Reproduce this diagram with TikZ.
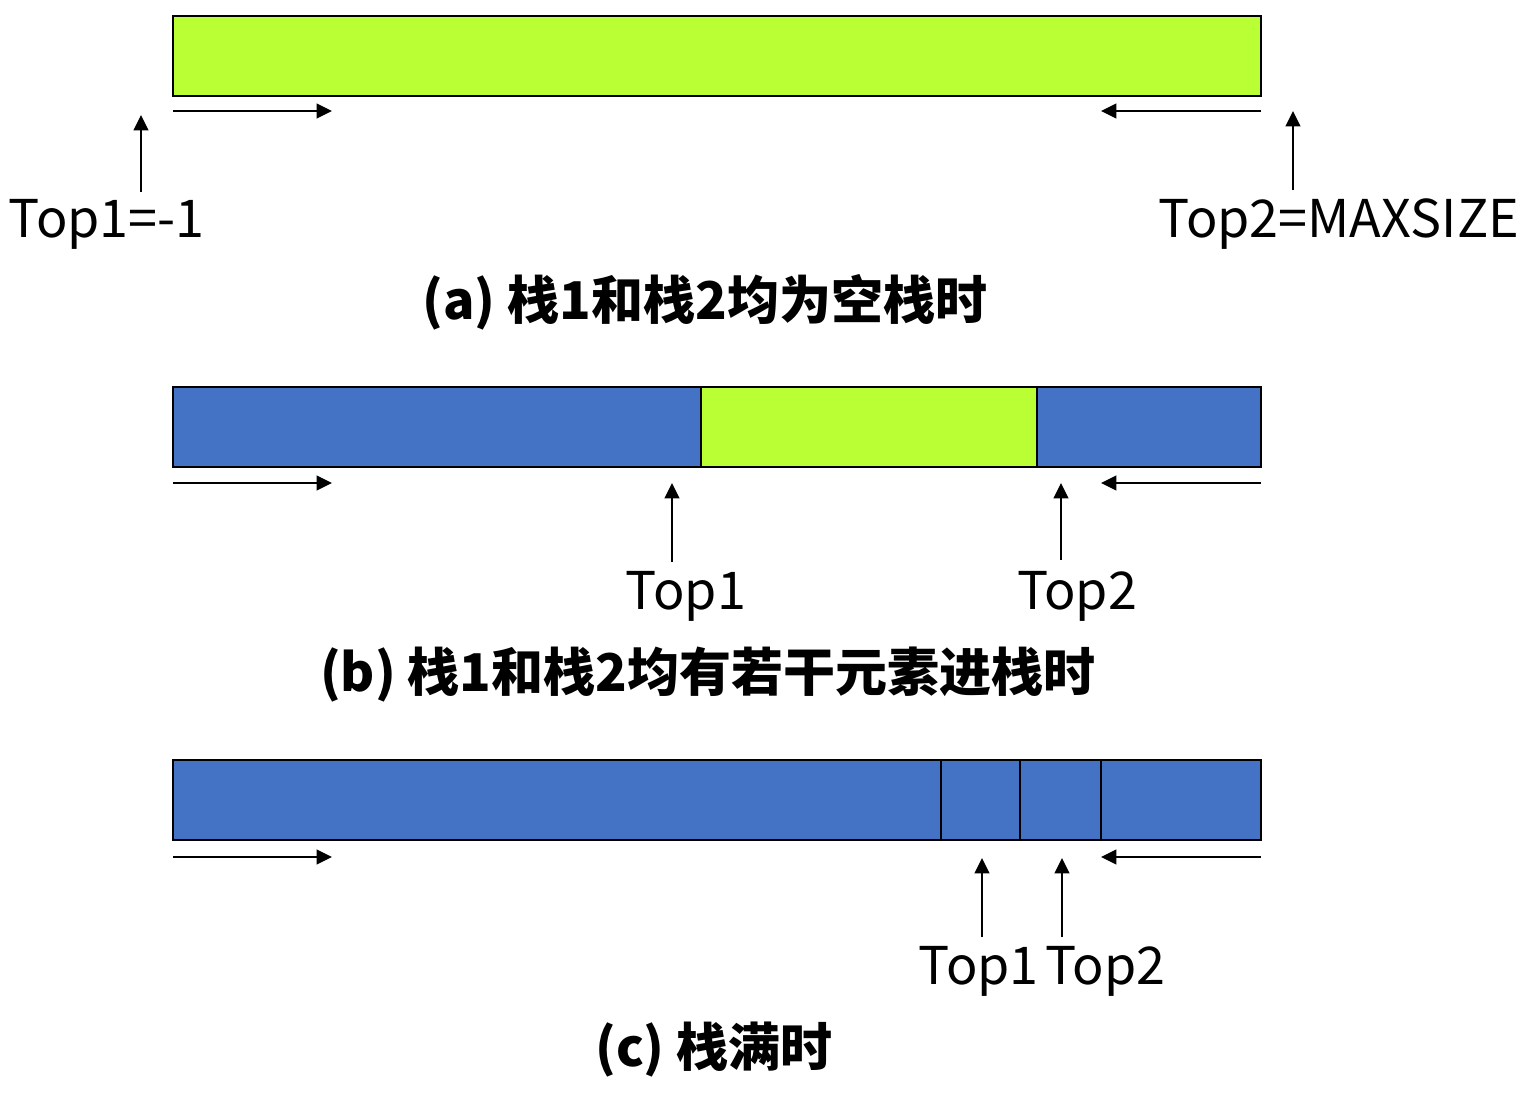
\documentclass[tikz,border=0pt]{standalone}
\usepackage{fontspec}
\setmainfont{Noto Sans CJK SC}
\usetikzlibrary{arrows.meta}
\definecolor{stkgreen}{HTML}{B9FF33}
\definecolor{stkblue}{HTML}{4472C4}
\begin{document}
\begin{tikzpicture}[x=0.01cm,y=-0.01cm,
  cell/.style={draw=black,line width=0.75pt},
  ptr/.style={line width=0.65pt,-{Triangle[length=4.4pt,width=4.2pt]}},
  lab/.style={font=\fontsize{14.8pt}{16pt}\selectfont,inner sep=0pt},
  captxt/.style={font=\bfseries\fontsize{14.8pt}{16pt}\selectfont,inner sep=0pt}]
\useasboundingbox (0,0) rectangle (1524,1093);

% ---------- (a) ----------
\draw[cell,fill=stkgreen] (173,16) rectangle (1261,96);
\coordinate (aL1) at (173,111); \coordinate (aL2) at (332,111);
\coordinate (aR1) at (1261,111); \coordinate (aR2) at (1101,111);
\draw[ptr] (aL1) -- (aL2);
\draw[ptr] (aR1) -- (aR2);
\node[lab,anchor=base west] (ta1) at (8,237) {Top1=-1};
\node[lab,anchor=base west] (ta2) at (1158,237) {Top2=MAXSIZE};
\coordinate (pa1t) at (141,192); \coordinate (pa1h) at (141,115);
\coordinate (pa2t) at (1293,190); \coordinate (pa2h) at (1293,111);
\draw[ptr] (pa1t) -- (pa1h);
\draw[ptr] (pa2t) -- (pa2h);
\node[captxt] (capa) at (705,302) {(a) 栈1和栈2均为空栈时};

% ---------- (b) ----------
\draw[cell,fill=stkblue] (173,387) rectangle (701,467);
\draw[cell,fill=stkgreen] (701,387) rectangle (1037,467);
\draw[cell,fill=stkblue] (1037,387) rectangle (1261,467);
\coordinate (bL1) at (173,483); \coordinate (bL2) at (332,483);
\coordinate (bR1) at (1261,483); \coordinate (bR2) at (1101,483);
\draw[ptr] (bL1) -- (bL2);
\draw[ptr] (bR1) -- (bR2);
\node[lab,anchor=base] (tb1) at (686,609) {Top1};
\node[lab,anchor=base] (tb2) at (1077,609) {Top2};
\coordinate (pb1t) at (672,562); \coordinate (pb1h) at (672,483);
\coordinate (pb2t) at (1061,560); \coordinate (pb2h) at (1061,483);
\draw[ptr] (pb1t) -- (pb1h);
\draw[ptr] (pb2t) -- (pb2h);
\node[captxt] (capb) at (708,675) {(b) 栈1和栈2均有若干元素进栈时};

% ---------- (c) ----------
\draw[cell,fill=stkblue] (173,760) rectangle (941,840);
\draw[cell,fill=stkblue] (941,760) rectangle (1020,840);
\draw[cell,fill=stkblue] (1020,760) rectangle (1101,840);
\draw[cell,fill=stkblue] (1101,760) rectangle (1261,840);
\coordinate (cL1) at (173,857); \coordinate (cL2) at (332,857);
\coordinate (cR1) at (1261,857); \coordinate (cR2) at (1101,857);
\draw[ptr] (cL1) -- (cL2);
\draw[ptr] (cR1) -- (cR2);
\node[lab,anchor=base west] (tc1) at (918,984) {Top1};
\node[lab,anchor=base east] (tc2) at (1166,984) {Top2};
\coordinate (pc1t) at (982,937); \coordinate (pc1h) at (982,858);
\coordinate (pc2t) at (1062,937); \coordinate (pc2h) at (1062,858);
\draw[ptr] (pc1t) -- (pc1h);
\draw[ptr] (pc2t) -- (pc2h);
\node[captxt] (capc) at (714,1050) {(c) 栈满时};
\end{tikzpicture}
\end{document}
